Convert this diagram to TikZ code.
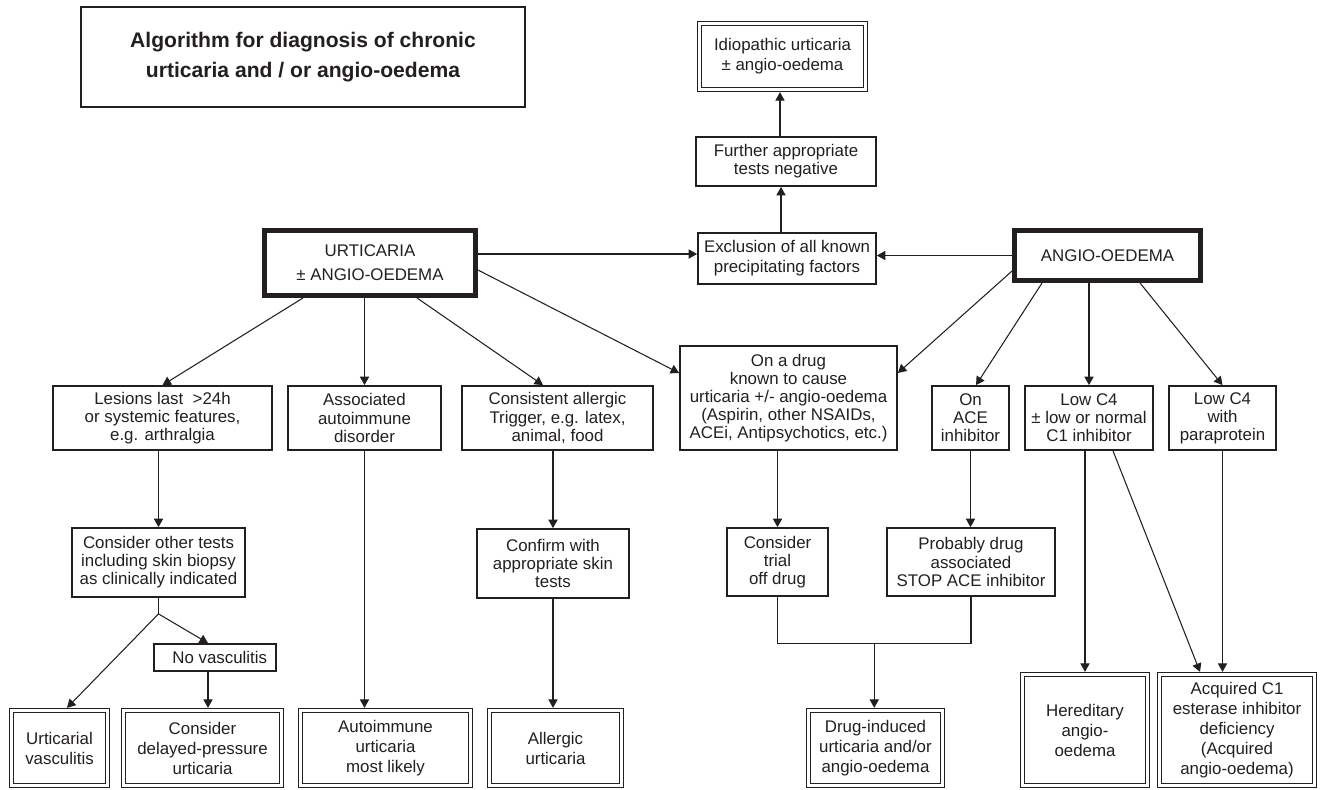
\documentclass[tikz,border=0pt]{standalone}
\usepackage{fontspec}
\setmainfont{Liberation Sans}
\usetikzlibrary{calc,arrows.meta}
\definecolor{ink}{RGB}{35,31,32}
\begin{document}
\begin{tikzpicture}[
  plainbox/.style={draw=ink,line width=1pt,text=ink,align=center,inner sep=1pt,
    font=\fontsize{9.6}{10.3}\selectfont},
  mainbox/.style={plainbox,line width=2.8pt},
  finalbox/.style={plainbox,line width=0.9pt,double,double distance=1.2pt,outer sep=1.5pt,
    font=\fontsize{9.6}{11.4}\selectfont},
  link/.style={draw=ink,line width=0.6pt,-{Triangle[length=4.8pt,width=5.2pt]}},
  wire/.style={draw=ink,line width=0.6pt}]
\useasboundingbox(0,0)rectangle(26.44,-15.78);
\node[plainbox,minimum width=8.88cm,minimum height=2cm,font=\fontsize{12}{17}\selectfont\bfseries](title)at(6.06,-1.14){Algorithm for diagnosis of chronic\\urticaria and / or angio-oedema};
\node[finalbox,minimum width=3.32cm,minimum height=1.32cm](idio)at(15.65,-1.13){Idiopathic urticaria\\± angio-oedema};
\node[plainbox,minimum width=3.6cm,minimum height=0.98cm](further)at(15.72,-3.23){Further appropriate\\tests negative};
\node[plainbox,minimum width=3.56cm,minimum height=1.02cm,font=\fontsize{9.6}{11.4}\selectfont](excl)at(15.74,-5.17){Exclusion of all known\\precipitating factors};
\node[mainbox,minimum width=4.22cm,minimum height=1.3cm,font=\fontsize{9.6}{13.7}\selectfont](urt)at(7.4,-5.26){URTICARIA\\± ANGIO-OEDEMA};
\node[mainbox,minimum width=3.72cm,minimum height=1cm](angio)at(22.15,-5.11){ANGIO-OEDEMA};
\node[plainbox,minimum width=4.38cm,minimum height=1.28cm](les)at(3.25,-8.36){Lesions last\ \ >24h\\or systemic features,\\e.g. arthralgia};
\node[plainbox,minimum width=3.06cm,minimum height=1.28cm](assoc)at(7.29,-8.36){Associated\\autoimmune\\disorder};
\node[plainbox,minimum width=3.82cm,minimum height=1.28cm](cons)at(11.15,-8.36){Consistent allergic\\Trigger, e.g. latex,\\animal, food};
\node[plainbox,minimum width=4.34cm,minimum height=2.08cm](drug)at(15.77,-7.96){On a drug\\known to cause\\urticaria +/- angio-oedema\\(Aspirin, other NSAIDs,\\ACEi, Antipsychotics, etc.)};
\node[plainbox,minimum width=1.54cm,minimum height=1.28cm](ace)at(19.41,-8.36){On\\ACE\\inhibitor};
\node[plainbox,minimum width=2.56cm,minimum height=1.28cm](lowc)at(21.78,-8.36){Low C4\\± low or normal\\C1 inhibitor};
\node[plainbox,minimum width=2.14cm,minimum height=1.28cm](para)at(24.45,-8.36){Low C4\\with\\paraprotein};
\node[plainbox,minimum width=3.46cm,minimum height=1.38cm](other)at(3.17,-11.25){Consider other tests\\including skin biopsy\\as clinically indicated};
\node[plainbox,minimum width=3.04cm,minimum height=1.38cm](confirm)at(11.06,-11.27){Confirm with\\appropriate skin\\tests};
\node[plainbox,minimum width=2.02cm,minimum height=1.36cm](trial)at(15.55,-11.24){Consider\\trial\\off drug};
\node[plainbox,minimum width=3.36cm,minimum height=1.36cm](prob)at(19.42,-11.24){Probably drug\\associated\\STOP ACE inhibitor};
\node[plainbox,minimum width=2.44cm,minimum height=0.54cm](novasc)at(4.3,-13.15){\ \ No vasculitis};
\node[finalbox,minimum width=1.92cm,minimum height=1.5cm](uv)at(1.19,-14.96){Urticarial\\vasculitis};
\node[finalbox,minimum width=3.16cm,minimum height=1.5cm](dp)at(4.05,-14.96){Consider\\delayed-pressure\\urticaria};
\node[finalbox,minimum width=3.4cm,minimum height=1.5cm](ai)at(7.71,-14.96){Autoimmune\\urticaria\\most likely};
\node[finalbox,minimum width=2.64cm,minimum height=1.5cm](all)at(11.11,-14.96){Allergic\\urticaria};
\node[finalbox,minimum width=2.68cm,minimum height=1.5cm](di)at(17.51,-14.96){Drug-induced\\urticaria and/or\\angio-oedema};
\node[finalbox,minimum width=2.5cm,minimum height=2.22cm](her)at(21.7,-14.6){Hereditary\\angio-\\oedema};
\node[finalbox,minimum width=3.1cm,minimum height=2.22cm](acq)at(24.74,-14.6){Acquired C1\\esterase inhibitor\\deficiency\\(Acquired\\angio-oedema)};
\draw[link]([yshift=1.8mm]urt.east)--([yshift=1.8mm]urt.east-|excl.west);
\draw[link](angio.west)--(angio.west-|excl.east);
\draw[link]([xshift=-1.2mm]excl.north)--([xshift=-1.2mm]excl.north|-further.south);
\draw[link]([xshift=-1.2mm]further.north)--([xshift=-1.2mm]further.north|-idio.south);
\draw[link]([xshift=8.2mm]urt.south west)--(les.north);
\draw[link](urt.south-|assoc.north)--(assoc.north);
\draw[link]([xshift=9.4mm]urt.south)--([xshift=-2.9mm]cons.north);
\draw[link]([yshift=-1.4mm]urt.east)--([yshift=5mm]drug.west);
\draw[link]([yshift=-3.1mm]angio.west)--([yshift=5mm]drug.east);
\draw[link]([xshift=6mm]angio.south west)--([xshift=1.1mm]ace.north);
\draw[link](angio.south-|lowc.north)--(lowc.north);
\draw[link]([xshift=6.5mm]angio.south)--(para.north);
\draw[link](les.south-|other.north)--(other.north);
\draw[link](assoc.south)--(assoc.south|-ai.north);
\draw[link](cons.south-|confirm.north)--(confirm.north);
\draw[link](confirm.south)--(confirm.south|-all.north);
\coordinate(br)at([yshift=-3.2mm]other.south);
\draw[wire](other.south)--(br);
\draw[link](br)--([xshift=1.5mm]uv.north);
\draw[link](br)--([xshift=-1.4mm]novasc.north);
\draw[link]([xshift=-1.4mm]novasc.south)--([xshift=-1.4mm]novasc.south|-dp.north);
\draw[link](drug.south-|trial.north)--(trial.north);
\draw[link](ace.south)--(ace.south|-prob.north);
\coordinate(mg)at($(trial.south)!0.5!(prob.south)+(0,-0.94)$);
\draw[wire](trial.south)--(trial.south|-mg)--(prob.south|-mg)--(prob.south);
\draw[link](mg)--(mg|-di.north);
\draw[link](lowc.south-|her.north)--(her.north);
\draw[link]([xshift=4.8mm]lowc.south)--([xshift=-7.4mm]acq.north);
\draw[link](para.south)--(para.south|-acq.north);
\end{tikzpicture}
\end{document}
